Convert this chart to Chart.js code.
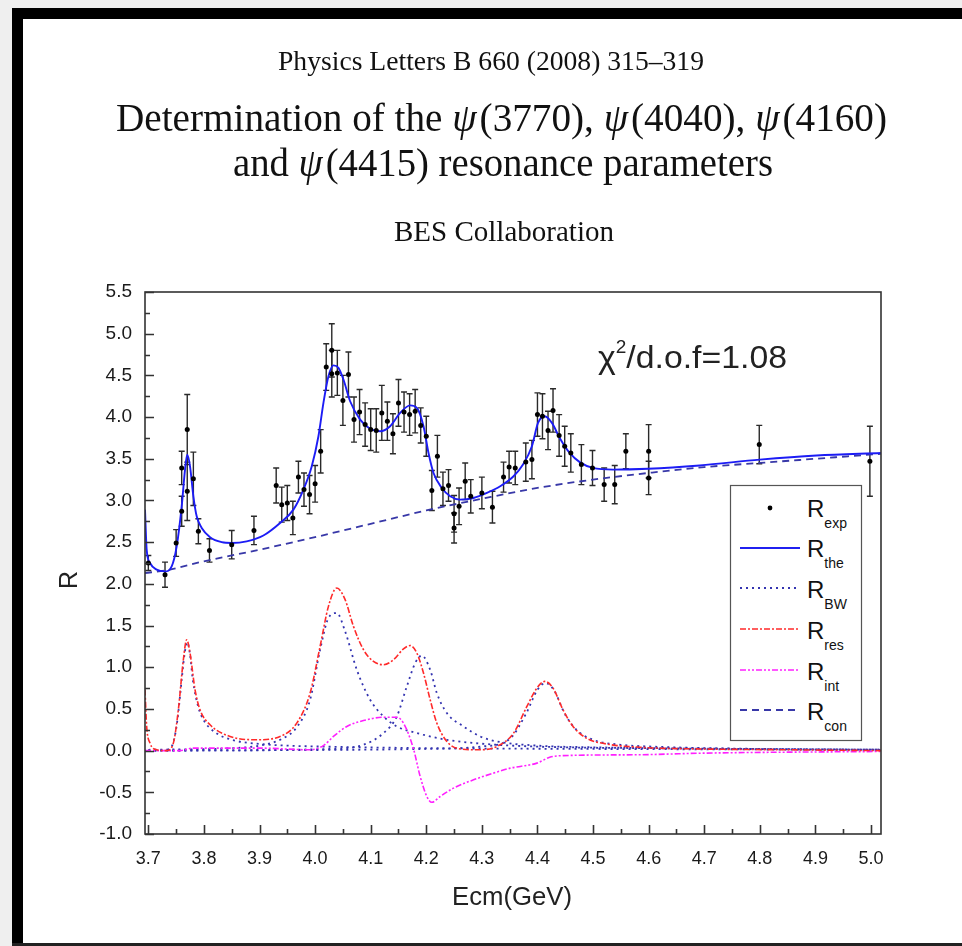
<!DOCTYPE html>
<html>
<head>
<meta charset="utf-8">
<script src="https://cdn.jsdelivr.net/npm/chart.js@4.4.1/dist/chart.umd.min.js"></script>
<style>
  html,body{margin:0;padding:0;}
  body{width:962px;height:946px;position:relative;overflow:hidden;background:#efefef;font-family:"Liberation Sans",Arial,sans-serif;}
  .blk{position:absolute;background:#000;}
  #page{position:absolute;left:23px;top:19px;width:939px;height:924px;background:#fff;}
  #cv{position:absolute;left:0;top:0;}
  #ov{position:absolute;left:0;top:0;}
</style>
</head>
<body>
<div class="blk" style="left:12px;top:8px;width:950px;height:11px;"></div>
<div class="blk" style="left:12px;top:8px;width:11px;height:938px;"></div>
<div id="page"></div>
<div class="blk" style="left:12px;top:943px;width:950px;height:3px;background:#222;"></div>
<canvas id="cv" width="962" height="946"></canvas>
<svg id="ov" width="962" height="946" xmlns="http://www.w3.org/2000/svg">
  <g font-family="Liberation Serif, Times New Roman, serif" fill="#111">
    <text x="278" y="70" font-size="27" textLength="426" lengthAdjust="spacingAndGlyphs">Physics Letters B 660 (2008) 315–319</text>
    <text x="116" y="131" font-size="39" textLength="771" lengthAdjust="spacingAndGlyphs">Determination of the <tspan font-style="italic">ψ</tspan><tspan dx="3">(3770), </tspan><tspan font-style="italic">ψ</tspan><tspan dx="3">(4040), </tspan><tspan font-style="italic">ψ</tspan><tspan dx="3">(4160)</tspan></text>
    <text x="233" y="176" font-size="39" textLength="540" lengthAdjust="spacingAndGlyphs">and <tspan font-style="italic">ψ</tspan><tspan dx="3">(4415) resonance parameters</tspan></text>
    <text x="394" y="241" font-size="29" textLength="220" lengthAdjust="spacingAndGlyphs">BES Collaboration</text>
  </g>
  <g font-family="Liberation Sans, Arial, sans-serif" fill="#222">
    <text x="598" y="368" font-size="32" textLength="189" lengthAdjust="spacingAndGlyphs">χ<tspan dy="-15" font-size="18">2</tspan><tspan dy="15">/d.o.f=1.08</tspan></text>
    <text x="452" y="905" font-size="25" textLength="120" lengthAdjust="spacingAndGlyphs">Ecm(GeV)</text>
    <text x="0" y="0" font-size="25" text-anchor="middle" transform="translate(77,580) rotate(-90)">R</text>
  </g>
  <g transform="translate(730,485)">
    <rect x="0.5" y="0.5" width="131" height="255" fill="#fff" stroke="#555" stroke-width="1.2"/>
    <circle cx="40" cy="23" r="2.4" fill="#000"/>
    <line x1="10" x2="70" y1="63" y2="63" stroke="#2020f0" stroke-width="1.8"/>
    <line x1="10" x2="70" y1="103" y2="103" stroke="#3333b0" stroke-width="2" stroke-dasharray="2,4"/>
    <line x1="10" x2="70" y1="144" y2="144" stroke="#ff2a2a" stroke-width="1.6" stroke-dasharray="6,2,2,2"/>
    <line x1="10" x2="70" y1="185" y2="185" stroke="#ff20ff" stroke-width="1.6" stroke-dasharray="6,2,2,2,2,2"/>
    <line x1="10" x2="70" y1="225" y2="225" stroke="#3838a8" stroke-width="1.8" stroke-dasharray="7,5"/>
    <g font-family="Liberation Sans, Arial, sans-serif" fill="#111" font-size="24">
      <text x="77" y="32">R<tspan font-size="14" dy="11">exp</tspan></text>
      <text x="77" y="72">R<tspan font-size="14" dy="11">the</tspan></text>
      <text x="77" y="113">R<tspan font-size="14" dy="11">BW</tspan></text>
      <text x="77" y="154">R<tspan font-size="14" dy="11">res</tspan></text>
      <text x="77" y="195">R<tspan font-size="14" dy="11">int</tspan></text>
      <text x="77" y="235">R<tspan font-size="14" dy="11">con</tspan></text>
    </g>
  </g>
</svg>
<script>
// ---------- data ----------
const xTickVals = [3.7,3.8,3.9,4.0,4.1,4.2,4.3,4.4,4.5,4.6,4.7,4.8,4.9,5.0];
const yTickVals = [-1.0,-0.5,0.0,0.5,1.0,1.5,2.0,2.5,3.0,3.5,4.0,4.5,5.0,5.5];

// experimental points (Ecm in GeV, R, error)
const expE = [3.700,3.730,3.750,3.760,3.760,3.770,3.770,3.781,3.790,3.810,3.850,3.890,3.930,3.940,3.950,3.960,3.970,3.980,3.990,4.000,4.010,4.020,4.030,4.030,4.040,4.050,4.060,4.070,4.080,4.090,4.100,4.110,4.120,4.130,4.140,4.150,4.160,4.170,4.180,4.190,4.200,4.210,4.220,4.230,4.240,4.250,4.250,4.259,4.270,4.280,4.300,4.319,4.339,4.349,4.360,4.379,4.390,4.400,4.409,4.419,4.428,4.439,4.449,4.460,4.479,4.499,4.520,4.539,4.559,4.600,4.600,4.799,4.998];
const expR = [2.25,2.11,2.49,2.87,3.39,3.85,3.11,3.26,2.63,2.40,2.47,2.64,3.18,2.95,2.97,2.79,3.28,3.13,3.07,3.20,3.59,4.60,4.80,4.52,4.53,4.20,4.51,3.97,4.06,3.91,3.85,3.84,4.05,3.95,3.80,4.17,4.06,4.03,4.07,3.90,3.77,3.12,3.53,3.14,3.18,2.84,2.67,2.93,3.23,3.05,3.09,2.92,3.28,3.40,3.39,3.46,3.49,4.03,4.01,3.84,4.08,3.78,3.65,3.57,3.43,3.39,3.19,3.19,3.59,3.59,3.27,3.67,3.47];
const expErr = [0.09,0.15,0.16,0.18,0.20,0.42,0.35,0.32,0.15,0.14,0.17,0.17,0.21,0.21,0.21,0.20,0.19,0.20,0.23,0.22,0.26,0.28,0.32,0.28,0.27,0.30,0.27,0.27,0.27,0.26,0.25,0.26,0.33,0.23,0.24,0.28,0.24,0.25,0.26,0.21,0.24,0.24,0.25,0.20,0.19,0.22,0.18,0.22,0.22,0.20,0.19,0.19,0.18,0.19,0.20,0.23,0.23,0.26,0.27,0.23,0.26,0.25,0.24,0.23,0.24,0.21,0.20,0.23,0.21,0.32,0.20,0.23,0.42];

// R_the (fitted total)
const theE = [3.694,3.697,3.703,3.715,3.730,3.742,3.751,3.760,3.766,3.770,3.775,3.781,3.787,3.796,3.811,3.832,3.850,3.877,3.907,3.937,3.961,3.979,3.994,4.006,4.015,4.024,4.033,4.042,4.051,4.063,4.081,4.099,4.117,4.135,4.153,4.171,4.183,4.195,4.204,4.213,4.228,4.243,4.261,4.285,4.309,4.333,4.357,4.374,4.390,4.401,4.413,4.426,4.440,4.458,4.476,4.500,4.536,4.599,4.692,4.800,4.902,5.018];
const theR = [2.89,2.41,2.25,2.17,2.15,2.21,2.45,2.93,3.37,3.55,3.41,3.05,2.81,2.67,2.56,2.50,2.49,2.51,2.58,2.73,2.89,3.13,3.41,3.77,4.17,4.49,4.62,4.59,4.45,4.19,3.97,3.86,3.83,3.89,4.05,4.14,4.11,3.89,3.57,3.33,3.15,3.05,3.01,3.03,3.09,3.17,3.29,3.43,3.65,3.93,4.01,3.93,3.75,3.57,3.46,3.39,3.37,3.38,3.42,3.49,3.54,3.57];

// R_con (continuum)
const conE = [3.694,3.730,3.800,3.900,4.000,4.100,4.200,4.300,4.400,4.500,4.600,4.700,4.800,4.900,5.018];
const conR = [2.13,2.16,2.27,2.41,2.56,2.72,2.88,3.02,3.15,3.25,3.33,3.40,3.45,3.50,3.56];

// R_res (resonances with interference)
const resE = [3.694,3.697,3.703,3.715,3.733,3.745,3.754,3.763,3.769,3.775,3.784,3.793,3.811,3.847,3.895,3.937,3.967,3.991,4.009,4.024,4.039,4.054,4.069,4.087,4.105,4.123,4.141,4.159,4.171,4.183,4.195,4.207,4.219,4.237,4.261,4.297,4.327,4.357,4.381,4.399,4.413,4.428,4.446,4.464,4.488,4.524,4.584,4.692,4.850,5.018];
const resR = [0.73,0.29,0.09,0.01,0.00,0.09,0.49,1.09,1.33,1.17,0.73,0.49,0.31,0.17,0.13,0.17,0.33,0.69,1.25,1.73,1.95,1.81,1.49,1.21,1.07,1.03,1.09,1.22,1.26,1.17,0.93,0.61,0.33,0.11,0.02,0.01,0.05,0.21,0.53,0.75,0.83,0.75,0.49,0.29,0.15,0.08,0.04,0.02,0.01,0.00];

// R_int (interference term)
const intE = [3.694,3.757,3.780,3.900,3.991,4.015,4.033,4.057,4.087,4.123,4.147,4.159,4.177,4.189,4.201,4.210,4.225,4.249,4.285,4.321,4.351,4.369,4.399,4.422,4.446,4.576,4.700,5.018];
const intR = [0.00,0.00,0.03,0.03,0.01,0.06,0.17,0.29,0.36,0.40,0.40,0.33,0.02,-0.31,-0.55,-0.62,-0.55,-0.45,-0.35,-0.27,-0.21,-0.19,-0.15,-0.08,-0.06,-0.05,-0.03,-0.01];

// R_BW for each resonance
const bw3770E = [3.735,3.745,3.752,3.760,3.765,3.770,3.775,3.780,3.790,3.800,3.820,3.850,3.900,3.950,4.000,4.200,4.500,5.018];
const bw3770R = [0.00,0.10,0.35,0.85,1.15,1.30,1.15,0.85,0.52,0.36,0.22,0.13,0.08,0.06,0.05,0.03,0.02,0.01];
const bw4040E = [3.700,3.850,3.900,3.940,3.967,3.991,4.009,4.024,4.039,4.054,4.075,4.099,4.123,4.147,4.183,4.237,4.327,4.450,4.600,5.018];
const bw4040R = [0.01,0.03,0.06,0.14,0.28,0.61,1.21,1.59,1.65,1.43,0.97,0.61,0.41,0.29,0.21,0.13,0.07,0.04,0.03,0.01];
const bw4160E = [3.700,4.027,4.087,4.123,4.147,4.165,4.180,4.192,4.207,4.219,4.237,4.267,4.297,4.327,4.400,4.500,5.018];
const bw4160R = [0.00,0.02,0.07,0.21,0.41,0.77,1.05,1.14,0.97,0.69,0.45,0.29,0.17,0.11,0.06,0.04,0.01];
const bw4415E = [3.700,4.200,4.300,4.350,4.380,4.400,4.415,4.430,4.450,4.470,4.500,4.550,4.600,4.800,5.018];
const bw4415R = [0.00,0.02,0.05,0.14,0.45,0.73,0.81,0.72,0.43,0.25,0.13,0.07,0.05,0.02,0.01];

// ---------- build chart ----------
const pts = (xs, ys) => xs.map((v, i) => ({x: v, y: ys[i]}));
const lineDs = (xs, ys, color, width, dash) => ({
  data: pts(xs, ys), borderColor: color, borderWidth: width, borderDash: dash,
  pointRadius: 0, fill: false, cubicInterpolationMode: 'monotone', showLine: true
});

const BW_COLOR = '#3333b0';
const datasets = [
  {data: pts(expE, expR), showLine: false, pointRadius: 2.5, pointBackgroundColor: '#000', pointBorderWidth: 0, borderColor: '#000'},
  lineDs(theE, theR, '#1c1cf5', 1.9, []),
  lineDs(conE, conR, '#3838a8', 1.8, [7,5]),
  lineDs(resE, resR, '#ff2a2a', 1.6, [6,2,2,2]),
  lineDs(intE, intR, '#ff20ff', 1.6, [6,2,2,2,2,2]),
  lineDs(bw3770E, bw3770R, BW_COLOR, 1.8, [2,4]),
  lineDs(bw4040E, bw4040R, BW_COLOR, 1.8, [2,4]),
  lineDs(bw4160E, bw4160R, BW_COLOR, 1.8, [2,4]),
  lineDs(bw4415E, bw4415R, BW_COLOR, 1.8, [2,4])
];

const errPlugin = {
  id: 'errbars',
  beforeDatasetsDraw(chart) {
    const {ctx, scales: {x, y}} = chart;
    ctx.save();
    ctx.strokeStyle = '#2a2a2a';
    ctx.lineWidth = 1.4;
    expE.forEach((e, i) => {
      const px = x.getPixelForValue(e);
      const y1 = y.getPixelForValue(expR[i] + expErr[i]);
      const y2 = y.getPixelForValue(expR[i] - expErr[i]);
      ctx.beginPath();
      ctx.moveTo(px, y1); ctx.lineTo(px, y2);
      ctx.moveTo(px - 3, y1); ctx.lineTo(px + 3, y1);
      ctx.moveTo(px - 3, y2); ctx.lineTo(px + 3, y2);
      ctx.stroke();
    });
    ctx.restore();
  }
};

const boxPlugin = {
  id: 'axisbox',
  afterDraw(chart) {
    const {ctx, chartArea: a, scales: {x, y}} = chart;
    ctx.save();
    ctx.strokeStyle = '#333';
    ctx.lineWidth = 1.6;
    ctx.strokeRect(a.left, a.top, a.right - a.left, a.bottom - a.top);
    ctx.beginPath();
    xTickVals.forEach((v, i) => {
      const px = Math.round(x.getPixelForValue(v)) + 0.5;
      ctx.moveTo(px, a.bottom); ctx.lineTo(px, a.bottom - 9);
      if (i < xTickVals.length - 1) {
        const pm = Math.round(x.getPixelForValue((v + xTickVals[i + 1]) / 2)) + 0.5;
        ctx.moveTo(pm, a.bottom); ctx.lineTo(pm, a.bottom - 5);
      }
    });
    yTickVals.forEach((v, i) => {
      const py = Math.round(y.getPixelForValue(v)) + 0.5;
      ctx.moveTo(a.left, py); ctx.lineTo(a.left + 9, py);
      if (i < yTickVals.length - 1) {
        const pm = Math.round(y.getPixelForValue((v + yTickVals[i + 1]) / 2)) + 0.5;
        ctx.moveTo(a.left, pm); ctx.lineTo(a.left + 5, pm);
      }
    });
    ctx.stroke();
    ctx.restore();
  }
};

const xFont = {family: 'Liberation Sans, Arial, sans-serif', size: 18};
const yFont = {family: 'Liberation Sans, Arial, sans-serif', size: 19};
new Chart(document.getElementById('cv').getContext('2d'), {
  type: 'line',
  data: {datasets},
  options: {
    responsive: false, animation: false, devicePixelRatio: 1,
    layout: {padding: {left: 0, right: 81, top: 292, bottom: 72}},
    plugins: {legend: {display: false}, tooltip: {enabled: false}},
    scales: {
      x: {
        type: 'linear', min: 3.694, max: 5.018,
        afterBuildTicks: s => { s.ticks = xTickVals.map(v => ({value: v})); },
        afterFit: s => { s.height = 40; },
        ticks: {callback: v => Number(v).toFixed(1), font: xFont, color: '#1a1a1a', padding: 14, maxRotation: 0, autoSkip: false},
        grid: {display: false, drawTicks: false}, border: {display: false}
      },
      y: {
        type: 'linear', min: -1.0, max: 5.5,
        afterBuildTicks: s => { s.ticks = yTickVals.map(v => ({value: v})); },
        afterFit: s => { s.width = 145; },
        ticks: {callback: v => Number(v).toFixed(1), font: yFont, color: '#1a1a1a', padding: 13, autoSkip: false},
        grid: {display: false, drawTicks: false}, border: {display: false}
      }
    }
  },
  plugins: [errPlugin, boxPlugin]
});
</script>
</body>
</html>
